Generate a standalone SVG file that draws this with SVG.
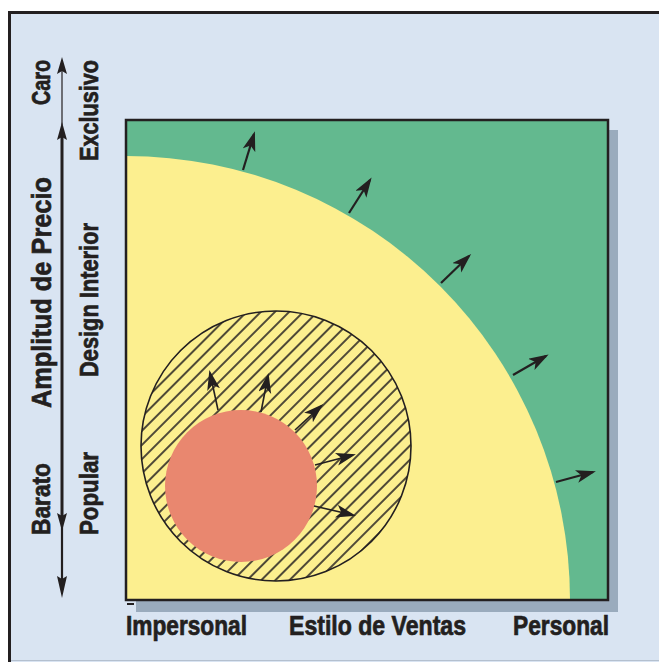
<svg xmlns="http://www.w3.org/2000/svg" width="659" height="662" viewBox="0 0 659 662">
<style>
.lbl{font-family:"Liberation Sans","Arial",sans-serif;font-weight:bold;fill:#231f20;stroke:#231f20;stroke-width:0.7;}
.arr{stroke:#231f20;stroke-width:2.2;fill:none;marker-end:url(#ah);}
.arr2{stroke:#231f20;stroke-width:1.6;fill:none;marker-end:url(#ah);}
</style>
<defs>
<marker id="ah" markerUnits="userSpaceOnUse" markerWidth="22" markerHeight="14" refX="17" refY="6.5" orient="auto">
<path d="M0,0 L20,6.5 L0,13 L5,6.5 Z" fill="#231f20"/>
</marker>
<pattern id="hatch" patternUnits="userSpaceOnUse" width="10" height="10" patternTransform="rotate(45)">
<line x1="5" y1="-1" x2="5" y2="11" stroke="#231f20" stroke-width="1.6"/>
</pattern>
<clipPath id="boxclip"><rect x="126" y="120" width="482" height="480"/></clipPath>
</defs>
<rect id="frame" x="9.5" y="12.5" width="700" height="700" fill="#d9e4f2" stroke="#231f20" stroke-width="3"/>
<line x1="11" y1="660.5" x2="659" y2="660.5" stroke="#b4c0cf" stroke-width="1"/>
<g id="chart">
<rect x="136" y="130" width="482" height="482" fill="#9aabbd"/>
<rect x="126" y="120" width="482" height="480" fill="#63b98f"/>
<path d="M126,600 L126,156 A444,444 0 0 1 570,600 Z" fill="#fcef8f" clip-path="url(#boxclip)"/>
<rect x="126" y="120" width="482" height="480" fill="none" stroke="#231f20" stroke-width="2.5"/>
<line x1="127" y1="604" x2="134" y2="604" stroke="#231f20" stroke-width="2"/>
</g>
<g id="hatched-circle">
<circle cx="276" cy="446" r="135" fill="url(#hatch)" stroke="#231f20" stroke-width="1.6"/>
</g>
<g id="core-circle">
<circle cx="241" cy="486" r="76" fill="#e9876f"/>
</g>
<g id="connectors">
<line class="arr" x1="243" y1="170" x2="254" y2="134"/>
<line class="arr" x1="349" y1="213" x2="370" y2="180"/>
<line class="arr" x1="441" y1="283" x2="469" y2="256"/>
<line class="arr" x1="513" y1="375" x2="546" y2="356"/>
<line class="arr" x1="556" y1="482" x2="593" y2="472"/>
<line class="arr2" x1="218" y1="410" x2="210" y2="373"/>
<line class="arr2" x1="261" y1="412" x2="268" y2="376"/>
<line class="arr2" x1="295" y1="430" x2="321" y2="406"/>
<line class="arr2" x1="315" y1="465" x2="353" y2="455"/>
<line class="arr2" x1="314" y1="506" x2="353" y2="515"/>
</g>
<g id="price-axis">
<line x1="62" y1="68" x2="62" y2="125" stroke="#231f20" stroke-width="1.2"/>
<line x1="62" y1="130" x2="62" y2="520" stroke="#231f20" stroke-width="3"/>
<line x1="62" y1="520" x2="62" y2="585" stroke="#231f20" stroke-width="2.2"/>
<path d="M62,57 L67,74 L62,71 L57,74 Z" fill="#231f20"/>
<path d="M62,122 L67,140 L62,137 L57,140 Z" fill="#231f20"/>
<path d="M62,531 L67,513 L62,516 L57,513 Z" fill="#231f20"/>
<path d="M62,598 L67,576 L62,579 L57,576 Z" fill="#231f20"/>
</g>
<g id="labels-left">
<text class="lbl" font-size="26" text-anchor="middle" transform="translate(50,82.5) rotate(-90)" textLength="45" lengthAdjust="spacingAndGlyphs">Caro</text>
<text class="lbl" font-size="27" text-anchor="middle" transform="translate(51,292.5) rotate(-90)" textLength="231" lengthAdjust="spacingAndGlyphs">Amplitud de Precio</text>
<text class="lbl" font-size="26" text-anchor="middle" transform="translate(50,499) rotate(-90)" textLength="72" lengthAdjust="spacingAndGlyphs">Barato</text>
<text class="lbl" font-size="26" text-anchor="middle" transform="translate(98,110.5) rotate(-90)" textLength="101" lengthAdjust="spacingAndGlyphs">Exclusivo</text>
<text class="lbl" font-size="26" text-anchor="middle" transform="translate(98,300) rotate(-90)" textLength="154" lengthAdjust="spacingAndGlyphs">Design Interior</text>
<text class="lbl" font-size="26" text-anchor="middle" transform="translate(98,493.5) rotate(-90)" textLength="83" lengthAdjust="spacingAndGlyphs">Popular</text>
</g>
<g id="labels-bottom">
<text class="lbl" font-size="27" x="126" y="635" textLength="121" lengthAdjust="spacingAndGlyphs">Impersonal</text>
<text class="lbl" font-size="27" x="289" y="635" textLength="177" lengthAdjust="spacingAndGlyphs">Estilo de Ventas</text>
<text class="lbl" font-size="27" x="513" y="635" textLength="96" lengthAdjust="spacingAndGlyphs">Personal</text>
</g>
</svg>
